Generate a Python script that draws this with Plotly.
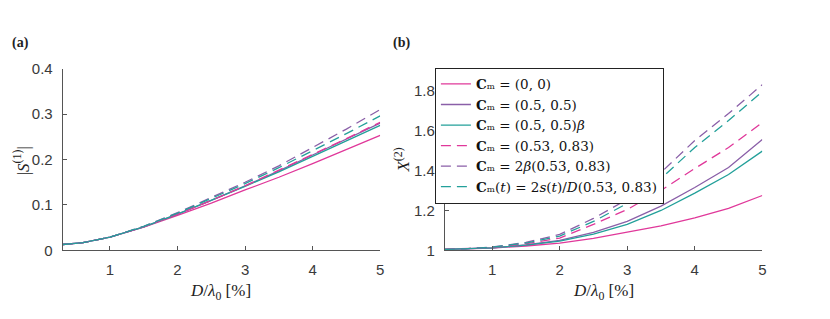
import plotly.graph_objects as go

# ---- data ----
x_vals = [0.3, 0.6, 1, 1.5, 2, 2.5, 3, 3.5, 4, 4.5, 5]

# panel (a): |S^(1)|
s_c00 = [0.013, 0.017, 0.029, 0.051, 0.077, 0.104, 0.133, 0.161, 0.191, 0.222, 0.253]
s_c05 = [0.013, 0.017, 0.029, 0.052, 0.080, 0.110, 0.142, 0.175, 0.210, 0.245, 0.280]
s_c05b = [0.013, 0.017, 0.029, 0.052, 0.080, 0.110, 0.141, 0.173, 0.207, 0.241, 0.275]
s_c53 = [0.013, 0.017, 0.029, 0.052, 0.080, 0.110, 0.142, 0.176, 0.211, 0.246, 0.282]
s_c53b = [0.013, 0.017, 0.029, 0.053, 0.083, 0.116, 0.150, 0.186, 0.226, 0.267, 0.310]
s_c53t = [0.013, 0.017, 0.029, 0.053, 0.082, 0.114, 0.147, 0.182, 0.219, 0.257, 0.296]

# panel (b): X^(2)
x_c00 = [1.005, 1.007, 1.012, 1.022, 1.037, 1.060, 1.090, 1.123, 1.163, 1.210, 1.275]
x_c05 = [1.005, 1.007, 1.013, 1.027, 1.050, 1.090, 1.145, 1.222, 1.315, 1.415, 1.555]
x_c05b = [1.005, 1.007, 1.013, 1.026, 1.046, 1.082, 1.130, 1.200, 1.287, 1.380, 1.497]
x_c53 = [1.005, 1.008, 1.015, 1.033, 1.062, 1.130, 1.205, 1.300, 1.410, 1.515, 1.640]
x_c53b = [1.005, 1.008, 1.017, 1.040, 1.080, 1.160, 1.255, 1.390, 1.550, 1.685, 1.830]
x_c53t = [1.005, 1.008, 1.016, 1.037, 1.072, 1.145, 1.235, 1.360, 1.515, 1.650, 1.795]

labels = [
    "<b>C</b>ₘ = (0, 0)",
    "<b>C</b>ₘ = (0.5, 0.5)",
    "<b>C</b>ₘ = (0.5, 0.5)<i>β</i>",
    "<b>C</b>ₘ = (0.53, 0.83)",
    "<b>C</b>ₘ = 2<i>β</i>(0.53, 0.83)",
    "<b>C</b>ₘ(<i>t</i>) = 2<i>s</i>(<i>t</i>)/<i>D</i>(0.53, 0.83)",
]
x_ticks = [1, 2, 3, 4, 5]

PINK = "#e0389a"
PURPLE = "#8a5fa8"
TEAL = "#23a09a"
colors = [PINK, PURPLE, TEAL, PINK, PURPLE, TEAL]
dashes = ["solid", "solid", "solid", "10px,6px", "10px,6px", "10px,6px"]

fig = go.Figure()
series_a = [s_c00, s_c05, s_c05b, s_c53, s_c53b, s_c53t]
series_b = [x_c00, x_c05, x_c05b, x_c53, x_c53b, x_c53t]
for i in range(6):
    fig.add_trace(go.Scatter(x=x_vals, y=series_a[i], mode="lines",
                             line=dict(color=colors[i], dash=dashes[i], width=1.3),
                             showlegend=False, xaxis="x", yaxis="y"))
for i in range(6):
    fig.add_trace(go.Scatter(x=x_vals, y=series_b[i], mode="lines", name=labels[i],
                             line=dict(color=colors[i], dash=dashes[i], width=1.3),
                             showlegend=True, xaxis="x2", yaxis="y2"))

AX = "#555555"
tickfont = dict(family="Liberation Sans, Arial, sans-serif", size=15, color="#3a3a3a")
axis_common = dict(showline=True, linecolor=AX, linewidth=1, ticks="inside",
                   ticklen=4, tickcolor=AX, showgrid=False, zeroline=False,
                   tickfont=tickfont, mirror=False, ticklabelstandoff=6)

ydom = [1 - 255 / 319, 1 - 63 / 319]
fig.update_layout(
    width=830, height=319,
    margin=dict(l=0, r=0, t=0, b=0),
    paper_bgcolor="white", plot_bgcolor="white",
    xaxis=dict(domain=[63 / 830, 382 / 830], range=[0.3, 5], tickvals=x_ticks,
               anchor="y", **axis_common),
    yaxis=dict(domain=ydom, range=[0, 0.4], tickvals=[0, 0.1, 0.2, 0.3, 0.4],
               anchor="x", **axis_common),
    xaxis2=dict(domain=[447 / 830, 766 / 830], range=[0.3, 5], tickvals=x_ticks,
                anchor="y2", **axis_common),
    yaxis2=dict(domain=ydom, range=[1, 1.91], tickvals=[1, 1.2, 1.4, 1.6, 1.8],
                anchor="x2", **axis_common),
    legend=dict(x=437 / 830, y=1 - 62 / 319, xanchor="left", yanchor="top",
                bgcolor="white", bordercolor="#222222", borderwidth=1,
                font=dict(family="DejaVu Serif, Liberation Serif, serif", size=13.5, color="#111111"),
                itemwidth=30, tracegroupgap=0),
)

serif = "Liberation Serif, DejaVu Serif, serif"
ann = [
    dict(text="<b>(a)</b>", x=10, y=36, xanchor="left", size=14),
    dict(text="<b>(b)</b>", x=393, y=36, xanchor="left", size=14),
    dict(text="<i>D</i>/<i>λ</i><sub>0</sub> [%]", x=222, y=299, xanchor="center", size=17),
    dict(text="<i>D</i>/<i>λ</i><sub>0</sub> [%]", x=606, y=299, xanchor="center", size=17),
    dict(text="|<i>S</i><sup>(1)</sup>|", x=22, y=160, xanchor="center", angle=-90, size=17),
    dict(text="<i>X</i><sup>(2)</sup>", x=404, y=160, xanchor="center", angle=-90, size=17),
]
for a in ann:
    fig.add_annotation(text=a["text"], xref="paper", yref="paper",
                       x=a["x"] / 830, y=1 - a["y"] / 319,
                       xanchor=a["xanchor"], yanchor="middle",
                       textangle=a.get("angle", 0), showarrow=False,
                       font=dict(family=serif, size=a.get("size", 13), color="#222222"))

fig.write_html("out.html", config={"displayModeBar": False},
               post_script="document.body.style.margin='0';document.body.style.overflow='hidden';")
